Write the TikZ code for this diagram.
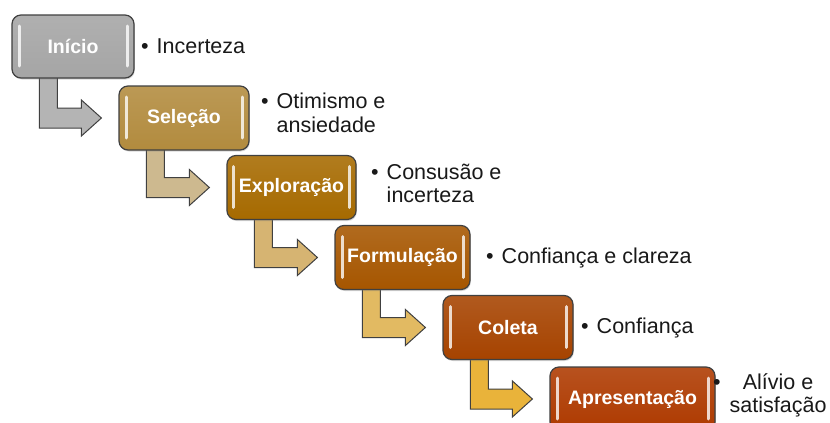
\documentclass[tikz,border=0pt]{standalone}
\usepackage{fontspec}
\setmainfont{Liberation Sans}
\usetikzlibrary{calc,positioning,backgrounds,shadows}

\begin{document}
\begin{tikzpicture}[x=1pt, y=-1pt,
    stage/.style={draw=black!75, line width=1.2pt, rounded corners=9pt,
      top color=#1!88!white, bottom color=#1, text=white,
      minimum width=128pt, minimum height=64pt, inner xsep=12pt,
      font=\fontsize{19.5}{22}\selectfont\bfseries,
      drop shadow={opacity=.3, shadow xshift=.8pt, shadow yshift=-1.5pt},
      path picture={
        \draw[line width=3pt, line cap=round, #1!20!white]
          ([xshift=7pt,yshift=-11pt]path picture bounding box.north west) --
          ([xshift=7pt,yshift=12pt]path picture bounding box.south west);
        \draw[line width=3pt, line cap=round, #1!20!white]
          ([xshift=-7pt,yshift=-11pt]path picture bounding box.north east) --
          ([xshift=-7pt,yshift=12pt]path picture bounding box.south east);
      }},
    desc/.style={anchor=west, inner sep=0pt, text=black!90,
      font=\fontsize{21.5}{23.5}\selectfont},
    stem/.style={draw=black!75, line width=1pt, fill=#1}]
    \definecolor{c-inicio}{HTML}{A5A5A5}
    \definecolor{c-selecao}{HTML}{B28B3E}
    \definecolor{c-exploracao}{HTML}{A66A00}
    \definecolor{c-formulacao}{HTML}{A65600}
    \definecolor{c-coleta}{HTML}{A64300}
    \definecolor{c-apresentacao}{HTML}{AE3A00}
    \definecolor{a-inicio}{HTML}{B4B4B4}
    \definecolor{a-selecao}{HTML}{CDB98F}
    \definecolor{a-exploracao}{HTML}{D6B472}
    \definecolor{a-formulacao}{HTML}{E2BA62}
    \definecolor{a-coleta}{HTML}{E9B33A}
    \def\stagearrow#1#2#3{%
      \coordinate (#1-top) at ($(#1.south west)+(28,-6)$);
      \coordinate (#1-tip) at ($(#2.west)+(-17,0)$);
      \filldraw[stem=#3] let \p1=(#1-top), \p2=(#1-tip) in
        (\x1,\y1) -- (\x1+18pt,\y1) -- (\x1+18pt,\y2+10pt) -- (\x2-20pt,\y2+10pt)
        -- (\x2-20pt,\y2+18pt) -- (\x2,\y2) -- (\x2-20pt,\y2-18pt)
        -- (\x2-20pt,\y2-10pt) -- (\x1,\y2-10pt) -- cycle;}
    \useasboundingbox (0,0) rectangle (830,423);
    \begin{pgfonlayer}{background}
      \fill[white] (0,0) rectangle (830,423);
    \end{pgfonlayer}

    \node[stage=c-inicio, minimum width=122pt, minimum height=63pt] (inicio) at (73,46.5) {Início};
    \node[stage=c-selecao, minimum width=130pt] (selecao) at (184,118) {Seleção};
    \node[stage=c-exploracao, minimum width=129pt] (exploracao) at (291.5,187.5) {Exploração};
    \node[stage=c-formulacao, minimum width=135pt] (formulacao) at (402.5,257.5) {Formulação};
    \node[stage=c-coleta, minimum width=130pt] (coleta) at (508,327.5) {Coleta};
    \node[stage=c-apresentacao, minimum width=165pt] (apresentacao) at (632.5,399) {Apresentação};

    \node[desc] (d-inicio) at (141,46.5) {\textbullet\hspace{8pt}Incerteza};
    \node[desc] (d-selecao) at (261,116)
      {\begin{tabular}{@{}l@{\hspace{8pt}}l@{}}\textbullet & Otimismo e\\ & ansiedade\end{tabular}};
    \node[desc] (d-exploracao) at (371,186.5)
      {\begin{tabular}{@{}l@{\hspace{8pt}}l@{}}\textbullet & Consusão e\\ & incerteza\end{tabular}};
    \node[desc] (d-formulacao) at (486,257.5) {\textbullet\hspace{8pt}Confiança e clareza};
    \node[desc] (d-coleta) at (581,327.5) {\textbullet\hspace{8pt}Confiança};
    \node[desc] (d-apresentacao) at (713,396.5)
      {\begin{tabular}{@{}l@{\hspace{9pt}}c@{}}\textbullet & Alívio e\\ & satisfação\end{tabular}};

    \begin{pgfonlayer}{background}
      \stagearrow{inicio}{selecao}{a-inicio}
      \stagearrow{selecao}{exploracao}{a-selecao}
      \stagearrow{exploracao}{formulacao}{a-exploracao}
      \stagearrow{formulacao}{coleta}{a-formulacao}
      \stagearrow{coleta}{apresentacao}{a-coleta}
    \end{pgfonlayer}
  \end{tikzpicture}
\end{document}
